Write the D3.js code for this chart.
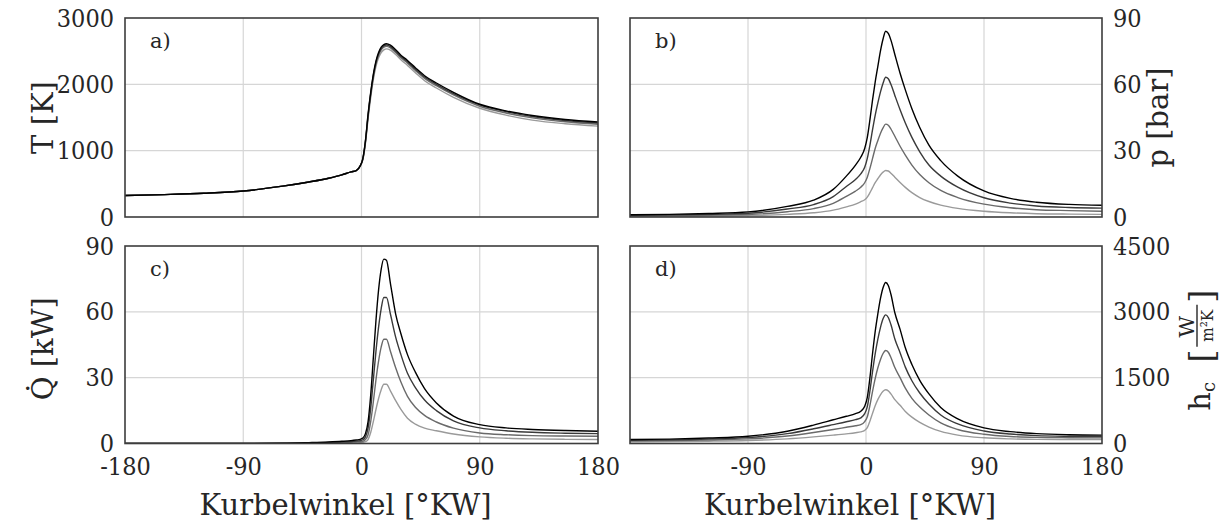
<!DOCTYPE html>
<html>
<head>
<meta charset="utf-8">
<script src="https://cdn.jsdelivr.net/npm/d3@7"></script>
<style>
  html, body { margin: 0; padding: 0; background: #fff; }
  svg { display: block; }
  text { font-family: "DejaVu Serif", serif; fill: #262626; }
  .tick text, .cond { font-family: "DejaVu Serif Condensed", "DejaVu Serif", serif; font-stretch: condensed; }
</style>
</head>
<body>
<svg id="chart" width="1227" height="528"></svg>
<script>
// Kurbelwinkel-Stützstellen [°KW]
const angles = [-180,-150,-120,-90,-60,-40,-25,-15,-8,-4,-1,1,3,5,7,9,11,13,15,17,19,22,26,30,35,41,48,57,70,90,110,130,155,180];

// a) Gastemperatur T [K], vier Betriebspunkte (hell -> dunkel)
const T1 = [323,338,358,392,465,528,585,635,680,700,770,860,1110,1480,1800,2070,2270,2400,2480,2520,2535,2515,2450,2370,2285,2175,2055,1945,1805,1640,1535,1460,1405,1370];
const T2 = [323,338,358,392,465,528,585,635,680,700,770,870,1130,1510,1840,2110,2310,2440,2520,2560,2572,2550,2480,2400,2320,2210,2090,1980,1840,1670,1568,1495,1435,1398];
const T3 = [323,338,358,392,465,528,585,635,680,700,770,875,1140,1530,1860,2130,2330,2460,2540,2580,2592,2570,2500,2420,2340,2230,2110,2000,1860,1690,1588,1515,1455,1418];
const T4 = [323,338,358,392,465,528,585,635,680,700,770,880,1150,1550,1880,2150,2350,2480,2560,2600,2612,2590,2520,2440,2360,2250,2130,2020,1880,1700,1600,1530,1470,1432];

// b) Zylinderdruck p [bar]
const p1 = [0.25,0.3,0.4,0.6,1.2,1.9,3.1,4.6,5.8,6.9,7.8,9,11,13.3,15.5,17.3,19,20.3,21,20.8,19.8,18,15.6,13.4,11,8.8,7,5.4,3.9,2.6,1.9,1.5,1.3,1.2];
const p2 = [0.5,0.6,0.8,1.15,2.4,3.8,6.2,9.3,11.7,13.5,15.5,18,22,26.5,31,34.5,37.8,40.3,42,41.5,39.8,36.5,32,28,23.5,19.2,15.5,12,8.8,5.8,4.2,3.3,2.9,2.6];
const p3 = [0.8,0.95,1.2,1.7,3.6,5.6,9.2,13.8,17,19.5,22.5,26.5,32.5,39.5,46,51.5,56.5,60.5,63.2,62.5,60,55,48.5,42.5,36,29.5,23.5,18.5,13.5,8.7,6.3,5,4.3,4];
const p4 = [1,1.2,1.6,2.3,4.8,7.6,12.5,18.5,23.5,27,31,36,44,53,61,68,75,80.5,84,83,80,73.5,65,57.5,49,40.5,32.5,25.5,18.5,11.8,8.4,6.7,5.7,5.3];

// c) Wärmestrom Q̇ [kW]
const Q1 = [0,0,0,0,0,0,0.1,0.2,0.3,0.3,0.4,0.5,0.8,1.8,5,10,15.5,20.5,24.5,27,27,24,19.5,15.5,11.5,8.8,7,5.8,4.3,3,2.4,2.1,1.9,1.8];
const Q2 = [0,0,0,0,0,0.2,0.3,0.5,0.6,0.7,0.8,1,1.8,4,10,19,29,37.5,44,47.5,47.5,42,34.5,28,21.5,16.5,12.8,9.8,7,4.8,4,3.6,3.4,3.3];
const Q3 = [0,0,0,0,0.1,0.3,0.5,0.7,0.9,1.1,1.3,1.7,3,7,16,29,42,53,61.5,66.5,66.5,59,48.5,40.5,32,25.5,19.8,15,10.3,7.1,5.8,5.1,4.7,4.5];
const Q4 = [0,0,0,0,0.1,0.4,0.7,1,1.3,1.6,1.9,2.5,4.5,10,22,39,56,70,79.5,84,83.5,73,59,50,40.5,32.5,25,18.5,12.5,8.6,7.1,6.4,5.9,5.6];

// d) Wärmeübergangskoeffizient h_c [W/(m²K)]
const h1 = [40,44,52,68,105,150,190,220,245,265,300,360,510,690,860,1000,1110,1190,1225,1200,1130,1000,870,730,600,480,375,275,190,130,105,95,92,90];
const h2 = [60,65,78,105,170,250,320,370,405,430,500,610,870,1190,1480,1720,1910,2050,2120,2080,1960,1730,1500,1260,1030,830,650,470,320,210,160,140,132,128];
const h3 = [75,82,100,135,225,335,430,495,545,585,680,840,1200,1640,2040,2370,2640,2840,2930,2870,2710,2380,2070,1740,1430,1150,900,650,445,285,215,180,165,160];
const h4 = [90,100,125,165,280,420,540,620,680,735,850,1050,1500,2050,2550,2950,3300,3550,3670,3600,3400,2980,2600,2180,1800,1440,1130,820,560,355,270,225,200,190];

const xTicks = [-180, -90, 0, 90, 180];
const tTicks = [0, 1000, 2000, 3000];
const pTicks = [0, 30, 60, 90];
const qTicks = [0, 30, 60, 90];
const hTicks = [0, 1500, 3000, 4500];
const lineColors = ["#9a9a9a", "#6a6a6a", "#3a3a3a", "#000000"];

const svg = d3.select("#chart");

const colL = [125, 598], colR = [630, 1102];
const rowT = [18, 217], rowB = [246, 443.5];

const panels = [
  { id: "a", tag: "a)", xr: colL, yr: rowT, dom: [0, 3000], ticks: tTicks, side: "left",  series: [T1, T2, T3, T4], xLabels: false },
  { id: "b", tag: "b)", xr: colR, yr: rowT, dom: [0, 90],   ticks: pTicks, side: "right", series: [p1, p2, p3, p4], xLabels: false },
  { id: "c", tag: "c)", xr: colL, yr: rowB, dom: [0, 90],   ticks: qTicks, side: "left",  series: [Q1, Q2, Q3, Q4], xLabels: true },
  { id: "d", tag: "d)", xr: colR, yr: rowB, dom: [0, 4500], ticks: hTicks, side: "right", series: [h1, h2, h3, h4], xLabels: true }
];

panels.forEach(P => {
  const x = d3.scaleLinear().domain([-180, 180]).range(P.xr);
  const y = d3.scaleLinear().domain(P.dom).range([P.yr[1], P.yr[0]]);
  const g = svg.append("g");

  // Gitter
  g.append("g").selectAll("line").data(xTicks.slice(1, -1)).join("line")
    .attr("x1", d => x(d)).attr("x2", d => x(d))
    .attr("y1", P.yr[0]).attr("y2", P.yr[1])
    .attr("stroke", "#d6d6d6").attr("stroke-width", 1.2);
  g.append("g").selectAll("line").data(P.ticks.slice(1, -1)).join("line")
    .attr("x1", P.xr[0]).attr("x2", P.xr[1])
    .attr("y1", d => y(d)).attr("y2", d => y(d))
    .attr("stroke", "#d6d6d6").attr("stroke-width", 1.2);

  // Kurven
  const clipId = "clip-" + P.id;
  svg.append("clipPath").attr("id", clipId).append("rect")
    .attr("x", P.xr[0]).attr("y", P.yr[0])
    .attr("width", P.xr[1] - P.xr[0]).attr("height", P.yr[1] - P.yr[0]);
  const line = d3.line().x((d, i) => x(angles[i])).y(d => y(d)).curve(d3.curveMonotoneX);
  g.append("g").attr("clip-path", `url(#${clipId})`)
    .selectAll("path").data(P.series).join("path")
    .attr("d", line)
    .attr("fill", "none")
    .attr("stroke", (d, i) => lineColors[i])
    .attr("stroke-width", 1.4)
    .attr("stroke-linejoin", "round");

  // Rahmen
  g.append("rect")
    .attr("x", P.xr[0]).attr("y", P.yr[0])
    .attr("width", P.xr[1] - P.xr[0]).attr("height", P.yr[1] - P.yr[0])
    .attr("fill", "none").attr("stroke", "#3d3d3d").attr("stroke-width", 1.6);

  // y-Achse
  const yAxis = (P.side === "left" ? d3.axisLeft(y) : d3.axisRight(y))
    .tickValues(P.ticks).tickSize(0).tickPadding(11).tickFormat(d => String(d));
  const ya = g.append("g")
    .attr("transform", `translate(${P.side === "left" ? P.xr[0] : P.xr[1]},0)`)
    .call(yAxis);
  ya.select(".domain").remove();
  ya.selectAll("text").attr("font-size", 25).attr("fill", "#262626");

  // x-Achse
  if (P.xLabels) {
    const xv = P.id === "d" ? xTicks.slice(1) : xTicks;
    const xAxis = d3.axisBottom(x).tickValues(xv).tickSize(0).tickPadding(14).tickFormat(d => String(d));
    const xa = g.append("g").attr("transform", `translate(0,${P.yr[1]})`).call(xAxis);
    xa.select(".domain").remove();
    xa.selectAll("text").attr("font-size", 25).attr("fill", "#262626");
    g.append("text")
      .attr("x", (P.xr[0] + P.xr[1]) / 2 - 16).attr("y", 515)
      .attr("text-anchor", "middle").attr("font-size", 29)
      .text("Kurbelwinkel [°KW]");
  }

  // Teilbild-Kennung
  g.append("text")
    .attr("x", P.xr[0] + 25).attr("y", P.yr[0] + 30)
    .attr("font-size", 21)
    .text(P.tag);
});

// Achsentitel links
svg.append("text")
  .attr("transform", `translate(53,${(rowT[0] + rowT[1]) / 2}) rotate(-90)`)
  .attr("text-anchor", "middle").attr("font-size", 29)
  .text("T [K]");
svg.append("text")
  .attr("transform", `translate(53,${(rowB[0] + rowB[1]) / 2 + 4}) rotate(-90)`)
  .attr("text-anchor", "middle").attr("font-size", 29)
  .text("Q̇ [kW]");

// Achsentitel rechts
svg.append("text")
  .attr("transform", `translate(1168,${(rowT[0] + rowT[1]) / 2}) rotate(-90)`)
  .attr("text-anchor", "middle").attr("font-size", 29)
  .text("p [bar]");

const hc = svg.append("g")
  .attr("transform", `translate(1210,${(rowB[0] + rowB[1]) / 2 + 4}) rotate(-90)`);
hc.append("text").attr("x", -62).attr("y", 0).attr("font-size", 29)
  .text("h").append("tspan").attr("font-size", 18).attr("dy", 5).text("c");
hc.append("text").attr("x", -14).attr("y", 3).attr("font-size", 34).text("[");
hc.append("text").attr("x", 22).attr("y", -16).attr("font-size", 21).attr("text-anchor", "middle").text("W");
hc.append("line").attr("x1", 2).attr("x2", 44).attr("y1", -13).attr("y2", -13)
  .attr("stroke", "#262626").attr("stroke-width", 1.4);
hc.append("text").attr("x", 23).attr("y", 3).attr("font-size", 17).attr("text-anchor", "middle")
  .attr("class", "cond").text("m²K");
hc.append("text").attr("x", 46).attr("y", 3).attr("font-size", 34).text("]");
</script>
</body>
</html>
